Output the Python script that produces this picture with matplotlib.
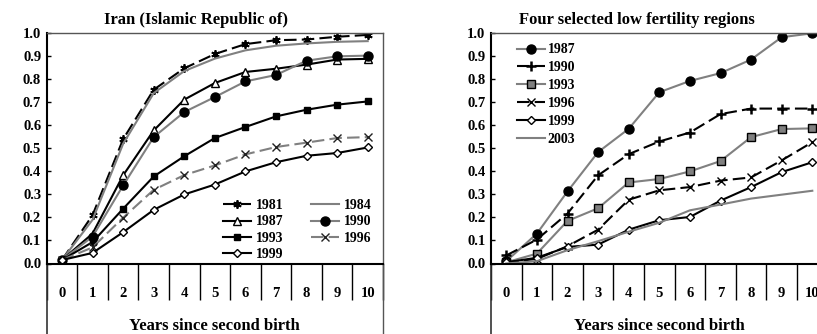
import numpy as np
import matplotlib
matplotlib.use("Agg")
import matplotlib.pyplot as plt

plt.rcParams['font.family'] = ['Liberation Serif', 'DejaVu Serif']
plt.rcParams['font.weight'] = 'bold'

years_cat = ['0', '1', '2', '3', '4', '5', '6', '7', '8', '9', '10']

# Iran (Islamic Republic of)
iran_1981 = [0.015, 0.21, 0.54, 0.755, 0.848, 0.91, 0.953, 0.97, 0.973, 0.985, 0.993]
iran_1984 = [0.015, 0.19, 0.52, 0.74, 0.836, 0.89, 0.926, 0.946, 0.956, 0.963, 0.966]
iran_1987 = [0.015, 0.13, 0.383, 0.578, 0.712, 0.784, 0.832, 0.846, 0.864, 0.886, 0.889]
iran_1990 = [0.015, 0.117, 0.339, 0.549, 0.658, 0.723, 0.791, 0.819, 0.881, 0.9, 0.903]
iran_1993 = [0.015, 0.093, 0.238, 0.378, 0.466, 0.545, 0.593, 0.639, 0.668, 0.69, 0.704]
iran_1996 = [0.015, 0.07, 0.199, 0.32, 0.384, 0.426, 0.474, 0.506, 0.525, 0.545, 0.549]
iran_1999 = [0.015, 0.046, 0.136, 0.233, 0.3, 0.343, 0.4, 0.44, 0.468, 0.48, 0.504]

# Four selected low fertility regions
reg_1987 = [0.01, 0.13, 0.313, 0.484, 0.585, 0.744, 0.793, 0.827, 0.886, 0.983, 1.0]
reg_1990 = [0.035, 0.104, 0.217, 0.383, 0.475, 0.53, 0.569, 0.649, 0.673, 0.673, 0.673]
reg_1993 = [0.005, 0.043, 0.185, 0.24, 0.352, 0.367, 0.4, 0.445, 0.549, 0.584, 0.587]
reg_1996 = [0.005, 0.02, 0.075, 0.147, 0.277, 0.318, 0.332, 0.36, 0.374, 0.448, 0.527]
reg_1999 = [0.005, 0.025, 0.072, 0.082, 0.147, 0.188, 0.202, 0.273, 0.332, 0.397, 0.44]
reg_2003 = [0.0, 0.01, 0.058, 0.097, 0.138, 0.177, 0.231, 0.256, 0.282, 0.299, 0.316]

GRAY = '#808080'
DASH = (6, 2.5)

W, H = 817, 334
fig = plt.figure(figsize=(W / 100, H / 100), dpi=100)


def make_axes(x0, x1, title, title_x):
    y0, y1 = 263.5, 33.3
    ax = fig.add_axes([x0 / W, 1 - y0 / H, (x1 - x0) / W, (y0 - y1) / H])
    ax.set_xlim(-0.5, 10.5)
    ax.set_ylim(0, 1.0)
    ax.set_yticks(np.arange(0, 1.01, 0.1))
    ax.set_yticklabels([f'{v:.1f}' for v in np.arange(0, 1.01, 0.1)])
    ax.tick_params(axis='y', direction='in', length=3, width=1, pad=4, labelsize=10.5)
    ax.set_xticks(np.arange(-0.5, 10.6, 1.0))
    ax.set_xticklabels([])
    ax.tick_params(axis='x', direction='out', length=26, width=1, color='black')
    ax.set_xticks(np.arange(11), minor=True)
    ax.set_xticklabels(years_cat, minor=True)
    ax.tick_params(axis='x', which='minor', length=0, pad=17, labelsize=10.5)
    ax.spines['left'].set_linewidth(1.5)
    ax.spines['bottom'].set_linewidth(1.5)
    for s in ['top', 'right']:
        ax.spines[s].set_color('#555555')
        ax.spines[s].set_linewidth(1)
    # plot-area frame continues below the axis
    ax.plot([0, 0], [0, -0.4], transform=ax.transAxes, clip_on=False,
            color='#333333', lw=1.2)
    ax.plot([1, 1], [0, -0.4], transform=ax.transAxes, clip_on=False,
            color='#555555', lw=1)
    ax.text(0.5, -0.272, 'Years since second birth', transform=ax.transAxes,
            ha='center', va='center', fontsize=12, fontweight='bold')
    fig.text(title_x / W, 1 - 20.5 / H, title, ha='center', va='center',
             fontsize=12, fontweight='bold')
    return ax


x = np.arange(11)

# left panel
ax1 = make_axes(46.7, 383, 'Iran (Islamic Republic of)', 196)
l81, = ax1.plot(x, iran_1981, color='black', lw=1.5, dashes=DASH,
                marker=(6, 2, 0), ms=6, mew=1.3, mec='black', label='1981')
l84, = ax1.plot(x, iran_1984, color=GRAY, lw=1.5, label='1984')
l87, = ax1.plot(x, iran_1987, color='black', lw=1.5, marker='^', ms=6,
                mfc='white', mec='black', mew=1, label='1987')
l90, = ax1.plot(x, iran_1990, color=GRAY, lw=1.5, marker='o', ms=6.5,
                mfc='black', mec='black', label='1990')
l93, = ax1.plot(x, iran_1993, color='black', lw=1.5, marker='s', ms=4.5,
                mfc='black', mec='black', label='1993')
l96, = ax1.plot(x, iran_1996, color=GRAY, lw=1.5, dashes=DASH, marker='x',
                ms=6, mec='#222222', mew=1, label='1996')
l99, = ax1.plot(x, iran_1999, color='black', lw=1.5, marker='D', ms=4.5,
                mfc='white', mec='black', mew=1, label='1999')

ax1.legend(handles=[l81, l87, l93, l99, l84, l90, l96], ncol=2, frameon=False,
           loc='upper left', bbox_to_anchor=((216 - 46.7) / (383 - 46.7), (263.5 - 192) / 230.2),
           borderpad=0, handlelength=2.0, handletextpad=0.35, columnspacing=2.0,
           labelspacing=0.25, fontsize=10)

# right panel
ax2 = make_axes(491, 827.6, 'Four selected low fertility regions', 637)
r87, = ax2.plot(x, reg_1987, color=GRAY, lw=1.5, marker='o', ms=6.5,
                mfc='black', mec='black', label='1987')
r90, = ax2.plot(x, reg_1990, color='black', lw=1.5, dashes=DASH, marker='+',
                ms=7, mew=1.8, mec='black', label='1990')
r93, = ax2.plot(x, reg_1993, color=GRAY, lw=1.5, marker='s', ms=6,
                mfc=GRAY, mec='black', mew=1, label='1993')
r96, = ax2.plot(x, reg_1996, color='black', lw=1.5, dashes=DASH, marker='x',
                ms=6, mec='black', mew=1, label='1996')
r99, = ax2.plot(x, reg_1999, color='black', lw=1.5, marker='D', ms=4.5,
                mfc='white', mec='black', mew=1, label='1999')
r03, = ax2.plot(x, reg_2003, color=GRAY, lw=1.5, label='2003')

ax2.legend(handles=[r87, r90, r93, r96, r99, r03], frameon=False,
           loc='upper left', bbox_to_anchor=((510 - 491) / 336.6, (263.5 - 36.5) / 230.2),
           borderpad=0, handlelength=2.0, handletextpad=0.2,
           labelspacing=0.35, fontsize=10)

fig.savefig('out.png', dpi=100, facecolor='white')
